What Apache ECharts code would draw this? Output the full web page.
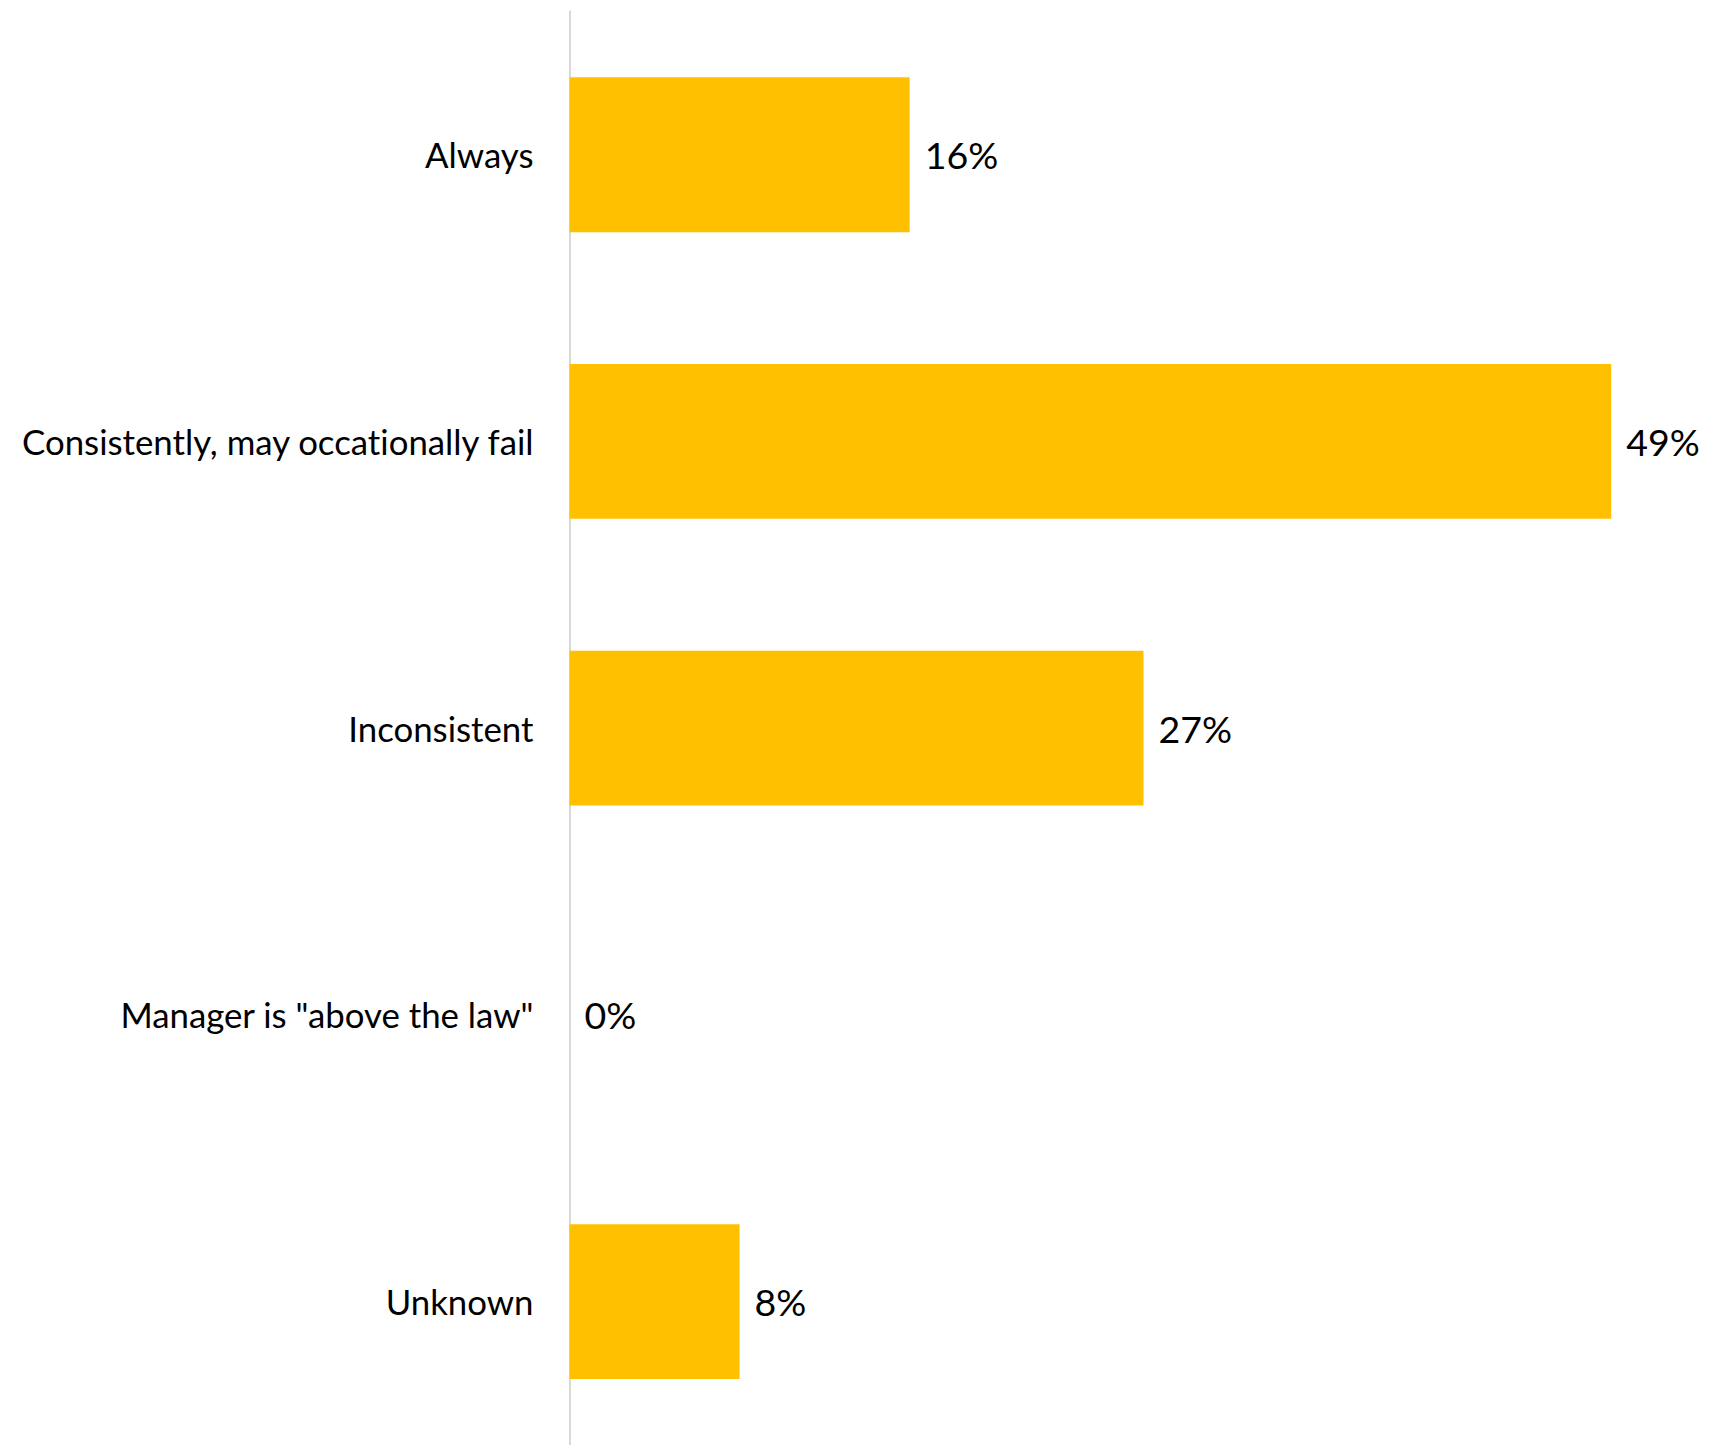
<!DOCTYPE html>
<html>
<head>
<meta charset="utf-8">
<script src="https://cdn.jsdelivr.net/npm/echarts@6/dist/echarts.min.js"></script>
<style>
  html, body { margin: 0; padding: 0; background: #fff; }
  #chart { width: 1714px; height: 1445px; }
  #chart text { font-variant-ligatures: none; }
</style>
</head>
<body>
<div id="chart"></div>
<script>
// Survey responses: how consistently rules are applied
const categories = [
  'Always',
  'Consistently, may occationally fail',
  'Inconsistent',
  'Manager is "above the law"',
  'Unknown'
];
const shares = [16, 49, 27, 0, 8];

const chart = echarts.init(document.getElementById('chart'), null, { renderer: 'svg' });

chart.setOption({
  animation: false,
  backgroundColor: '#ffffff',
  grid: {
    left: 569.5,
    top: 11.35,
    width: 1063,
    height: 1438.5,
    containLabel: false
  },
  xAxis: {
    type: 'value',
    min: 0,
    max: 50,
    show: false
  },
  yAxis: {
    type: 'category',
    inverse: true,
    data: categories,
    axisLine: { show: true, lineStyle: { color: '#d9d9d9', width: 2 } },
    axisTick: { show: false },
    axisLabel: {
      margin: 36,
      color: '#000000',
      fontFamily: 'Lato',
      fontSize: 34.8,
      padding: [4, 0, 0, 0]
    },
    splitLine: { show: false }
  },
  series: [{
    type: 'bar',
    data: shares,
    barCategoryGap: '46%',
    itemStyle: { color: '#FFC000' },
    label: {
      show: true,
      position: 'right',
      distance: 15,
      color: '#000000',
      fontFamily: 'Lato',
      fontSize: 37.5,
      padding: [4, 0, 0, 0],
      formatter: p => p.value + '%'
    }
  }]
});
</script>
</body>
</html>
